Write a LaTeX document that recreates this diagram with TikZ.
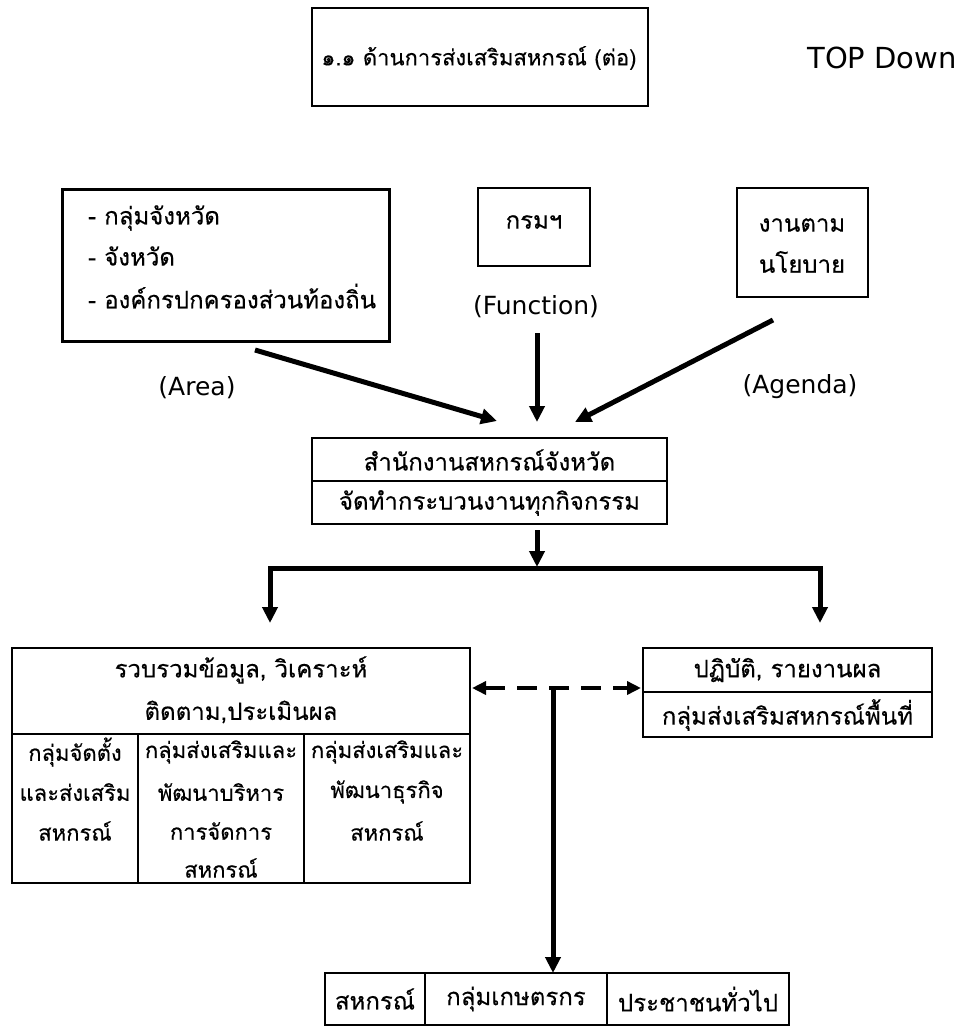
\documentclass[tikz,border=0pt]{standalone}
\usepackage{fontspec}
\setmainfont[Script=Thai,FakeBold=0.3]{Loma}
\newfontfamily\latf{DejaVu Sans}
\usetikzlibrary{arrows.meta}
\begin{document}
\begin{tikzpicture}[x=1pt,y=-1pt,
  bx/.style={draw, line width=1.5pt, inner sep=0pt, outer sep=0pt},
  bxthick/.style={draw, line width=3pt, inner sep=0pt, outer sep=0pt},
  bxmid/.style={draw, line width=2.5pt, inner sep=0pt, outer sep=0pt},
  th/.style={font=\fontsize{24}{28}\selectfont, inner sep=0pt},
  thsmall/.style={font=\fontsize{22}{26}\selectfont, inner sep=0pt},
  lab/.style={font=\latf\fontsize{25}{28}\selectfont, inner sep=0pt},
  arr/.style={line width=5pt, -{Triangle[length=16pt,width=15pt]}},
]
\useasboundingbox[fill=white] (0,0) rectangle (971,1028);

% title
\node[bx, minimum width=336pt, minimum height=98pt] (title) at (480,57) {};
\node[thsmall] (titletxt) at (479,58) {๑.๑ ด้านการส่งเสริมสหกรณ์ (ต่อ)};
\node[lab, font=\latf\fontsize{29}{32}\selectfont] (topdown) at (882,58) {TOP Down};

% top boxes
\node[bxthick, minimum width=327pt, minimum height=152pt] (area) at (225.5,265) {};
\node[th, anchor=west] (area1) at (88,218) {- กลุ่มจังหวัด};
\node[th, anchor=west] (area2) at (88,256) {- จังหวัด};
\node[th, anchor=west] (area3) at (88,296) {- องค์กรปกครองส่วนท้องถิ่น};

\node[bxmid, minimum width=112pt, minimum height=78pt] (krom) at (534,227) {};
\node[th] (kromtxt) at (534,222) {กรมฯ};

\node[bxmid, minimum width=131pt, minimum height=109pt] (policy) at (802.5,242.5) {};
\node[th] (policy1) at (802,225) {งานตาม};
\node[th] (policy2) at (802,262) {นโยบาย};

\node[lab] (func) at (536,307) {(Function)};
\node[lab] (arealab) at (197,388) {(Area)};
\node[lab] (agenda) at (800,387) {(Agenda)};

% centre box
\node[bx, minimum width=355pt, minimum height=43pt] (ctop) at (489.5,459.5) {};
\node[bx, minimum width=355pt, minimum height=43pt] (cbot) at (489.5,502.5) {};
\node[th] (ctoptxt) at (489.5,460) {สำนักงานสหกรณ์จังหวัด};
\node[th] (cbottxt) at (489.5,503) {จัดทำกระบวนงานทุกกิจกรรม};

% arrows into centre
\coordinate (areaS) at (255,350);
\coordinate (areaT) at (497,421);
\coordinate (funcS) at (537,333);
\coordinate (funcT) at (537,422);
\coordinate (agS) at (773,320);
\coordinate (agT) at (575,422);
\draw[arr] (areaS) -- (areaT);
\draw[arr] (funcS) -- (funcT);
\draw[arr] (agS) -- (agT);

% split
\coordinate (cdS) at (537,530);
\coordinate (cdT) at (537,567);
\draw[arr] (cdS) -- (cdT);
\coordinate (bl) at (270,568);
\coordinate (br) at (820,568);
\coordinate (lt) at (270,623);
\coordinate (rt) at (820,623);
\draw[line width=5pt, line join=miter, {Triangle[length=16pt,width=15pt]}-{Triangle[length=16pt,width=15pt]}] (lt) -- (bl) -- (br) -- (rt);

% left box
\node[bx, minimum width=458pt, minimum height=86pt] (lhead) at (241,691) {};
\node[th] (lh1) at (241,670) {รวบรวมข้อมูล, วิเคราะห์};
\node[th] (lh2) at (241,712) {ติดตาม,ประเมินผล};
\node[bx, minimum width=126pt, minimum height=149pt] (col1) at (75,808.5) {};
\node[bx, minimum width=166pt, minimum height=149pt] (col2) at (221,808.5) {};
\node[bx, minimum width=166pt, minimum height=149pt] (col3) at (387,808.5) {};
\node[thsmall] (c1a) at (75,752) {กลุ่มจัดตั้ง};
\node[thsmall] (c1b) at (75,792) {และส่งเสริม};
\node[thsmall] (c1c) at (75,831) {สหกรณ์};
\node[thsmall] (c2a) at (221,752) {กลุ่มส่งเสริมและ};
\node[thsmall] (c2b) at (221,792) {พัฒนาบริหาร};
\node[thsmall] (c2c) at (221,831) {การจัดการ};
\node[thsmall] (c2d) at (221,868) {สหกรณ์};
\node[thsmall] (c3a) at (387,752) {กลุ่มส่งเสริมและ};
\node[thsmall] (c3b) at (387,792) {พัฒนาธุรกิจ};
\node[thsmall] (c3c) at (387,831) {สหกรณ์};

% right box
\node[bx, minimum width=289pt, minimum height=44pt] (rtop) at (787.5,670) {};
\node[bx, minimum width=289pt, minimum height=45pt] (rbot) at (787.5,714.5) {};
\node[th] (rtoptxt) at (787.5,670) {ปฏิบัติ, รายงานผล};
\node[th] (rbottxt) at (787.5,715) {กลุ่มส่งเสริมสหกรณ์พื้นที่};

% dashed link
\coordinate (dl) at (472,688);
\coordinate (dr) at (641,688);
\coordinate (dm) at (553,688);
\draw[line width=4pt, dash pattern=on 20pt off 12pt, {Triangle[length=14pt,width=13pt]}-{Triangle[length=14pt,width=13pt]}] (dl) -- (dr);

% bottom row
\node[bx, th, minimum width=100pt, minimum height=52pt] (b1) at (375,999) {สหกรณ์};
\node[bx, th, minimum width=182pt, minimum height=52pt] (b2) at (516,999) {กลุ่มเกษตรกร};
\node[bx, th, minimum width=182pt, minimum height=52pt] (b3) at (698,999) {ประชาชนทั่วไป};
\draw[arr] (dm) -- (b2.north -| dm);
\end{tikzpicture}
\end{document}
